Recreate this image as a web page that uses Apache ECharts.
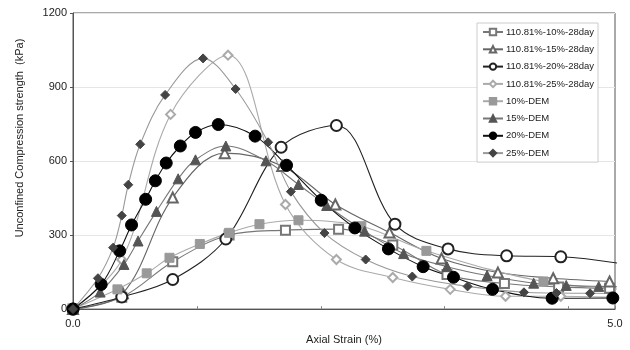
<!DOCTYPE html>
<html>
<head>
<meta charset="utf-8">
<script src="https://cdn.jsdelivr.net/npm/echarts@6/dist/echarts.min.js"></script>
<style>
  html, body { margin: 0; padding: 0; background: #fff; }
  #chart { width: 630px; height: 350px; }
</style>
</head>
<body>
<div id="chart"></div>
<script>
// test series (open markers), strain % / kPa
const sq10x = [0, 0.45, 0.92, 1.44, 1.96, 2.45, 2.95, 3.45, 3.98, 4.48, 4.95]
const sq10y = [0, 48, 192, 300, 320, 324, 260, 140, 104, 90, 84]
const tri15x = [0, 0.46, 0.92, 1.40, 1.93, 2.42, 2.92, 3.40, 3.92, 4.43, 4.95]
const tri15y = [0, 64, 452, 632, 580, 424, 310, 205, 148, 125, 112]
const cir20x = [0, 0.45, 0.92, 1.41, 1.92, 2.43, 2.97, 3.46, 4.0, 4.5, 5.4]
const cir20y = [0, 49, 120, 284, 656, 744, 344, 244, 216, 212, 160]
const dia25x = [0, 0.45, 0.90, 1.43, 1.96, 2.43, 2.95, 3.48, 3.99, 4.5, 4.97]
const dia25y = [0, 200, 789, 1029, 424, 201, 128, 80, 52, 52, 48]

// DEM series (filled markers)
const dem10x = [0, 0.41, 0.68, 0.89, 1.17, 1.44, 1.72, 2.08, 2.66, 3.26, 4.34, 5.4]
const dem10y = [0, 80, 145, 208, 264, 309, 344, 360, 336, 236, 112, 72]
const dem15x = [0, 0.25, 0.47, 0.60, 0.77, 0.97, 1.13, 1.41, 1.78, 2.08, 2.34, 2.69, 3.05, 3.45, 3.82, 4.25, 4.55, 4.85, 5.3]
const dem15y = [0, 69, 181, 276, 396, 528, 605, 661, 601, 505, 420, 316, 225, 172, 136, 105, 96, 92, 88]
const dem20x = [0, 0.26, 0.43, 0.54, 0.67, 0.76, 0.86, 0.99, 1.13, 1.34, 1.68, 1.97, 2.29, 2.60, 2.91, 3.23, 3.51, 3.87, 4.42, 4.98]
const dem20y = [0, 100, 236, 341, 445, 520, 592, 661, 716, 748, 701, 583, 441, 329, 244, 172, 129, 80, 44, 45]
const dem25x = [0, 0.23, 0.37, 0.45, 0.51, 0.62, 0.85, 1.20, 1.50, 1.80, 2.01, 2.32, 2.70, 3.13, 3.64, 4.16, 4.46, 4.77, 5.3]
const dem25y = [0, 125, 249, 379, 504, 668, 868, 1016, 892, 676, 476, 308, 201, 132, 92, 68, 65, 64, 62]

const yTicks = [0, 300, 600, 900, 1200]

function pairs (xs, ys) {
  return xs.map((x, i) => [x, ys[i]])
}

function makeSeries (name, xs, ys, symbol, size, lineColor, markColor) {
  return {
    name,
    type: 'line',
    smooth: 0.35,
    clip: true,
    data: pairs(xs, ys),
    symbol,
    symbolSize: size,
    showAllSymbol: true,
    lineStyle: { color: lineColor, width: 1.1 },
    itemStyle: { color: markColor, borderColor: markColor, borderWidth: 1 },
    emphasis: { disabled: true },
  }
}

const series = [
  makeSeries('110.81%-10%-28day', sq10x, sq10y, 'emptyRect', 9, '#777', '#777'),
  makeSeries('110.81%-15%-28day', tri15x, tri15y, 'emptyTriangle', 10, '#666', '#666'),
  makeSeries('110.81%-20%-28day', cir20x, cir20y, 'emptyCircle', 11, '#222', '#222'),
  makeSeries('110.81%-25%-28day', dia25x, dia25y, 'emptyDiamond', 9, '#aaa', '#aaa'),
  makeSeries('10%-DEM', dem10x, dem10y, 'rect', 9, '#aaa', '#999'),
  makeSeries('15%-DEM', dem15x, dem15y, 'triangle', 10, '#777', '#555'),
  makeSeries('20%-DEM', dem20x, dem20y, 'circle', 12, '#111', '#000'),
  makeSeries('25%-DEM', dem25x, dem25y, 'diamond', 9, '#999', '#444'),
]

const chart = echarts.init(document.getElementById('chart'))
const font = 'Liberation Sans'

chart.setOption({
  animation: false,
  backgroundColor: '#fff',
  textStyle: { fontFamily: font },
  grid: {
    left: 73, right: 15, top: 13, bottom: 37,
    show: true, borderColor: '#555', borderWidth: 1,
  },
  legend: {
    orient: 'vertical',
    left: 477,
    top: 23,
    width: 117,
    padding: [4, 4, 4, 5],
    itemWidth: 20,
    itemHeight: 8,
    itemGap: 7.3,
    borderColor: '#ccc',
    borderWidth: 1,
    backgroundColor: '#fff',
    textStyle: { fontSize: 9.5, color: '#222', fontFamily: font, padding: [0, 0, 0, -2] },
    data: series.map(s => s.name),
  },
  xAxis: [{
    type: 'value',
    min: 0,
    max: 5,
    interval: 5,
    name: 'Axial Strain (%)',
    nameLocation: 'middle',
    nameGap: 22,
    nameTextStyle: { fontSize: 11, color: '#222', fontFamily: font },
    axisLine: { lineStyle: { color: '#555' } },
    axisTick: { show: false },
    axisLabel: { fontSize: 11, color: '#222', margin: 9, formatter: v => v.toFixed(1) },
    splitLine: { show: false },
  }, {
    type: 'value',
    position: 'bottom',
    min: 0,
    max: 5,
    interval: 8 / 7,
    axisLine: { show: false },
    axisTick: { show: true, inside: true, length: 3, lineStyle: { color: '#888' } },
    axisLabel: { show: false },
    splitLine: { show: false },
  }],
  yAxis: {
    type: 'value',
    min: yTicks[0],
    max: yTicks[yTicks.length - 1],
    interval: 300,
    axisLine: { show: true, lineStyle: { color: '#555' } },
    axisTick: { show: true, length: 3, lineStyle: { color: '#555' } },
    axisLabel: { fontSize: 11, color: '#222', margin: 6, formatter: v => String(v) },
    splitLine: { lineStyle: { color: '#e6e6e6', width: 1 } },
  },
  graphic: [{
    type: 'text',
    x: 20,
    y: 138,
    rotation: Math.PI / 2,
    style: {
      text: 'Unconfined Compression strength  (kPa)',
      fontSize: 11,
      fontFamily: font,
      fill: '#222',
      align: 'center',
      verticalAlign: 'middle',
    },
  }],
  series,
})
</script>
</body>
</html>
